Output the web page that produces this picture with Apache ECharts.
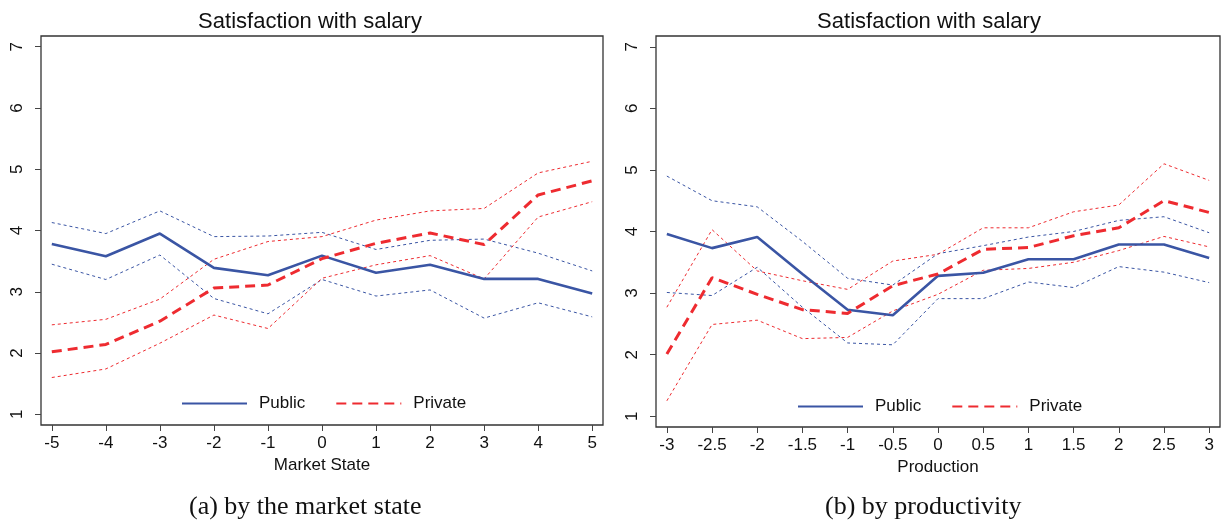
<!DOCTYPE html>
<html>
<head>
<meta charset="utf-8">
<title>Satisfaction with salary</title>
<script src="https://cdn.jsdelivr.net/npm/echarts@6/dist/echarts.min.js"></script>
<style>
    html, body { margin: 0; padding: 0; background: #fff; }
    #main_chart { width: 1227px; height: 520px; }
</style>
</head>
<body>
<div id="main_chart"></div>
<script>
//(a) 按市场状态
var marketState = [-5, -4, -3, -2, -1, 0, 1, 2, 3, 4, 5];
var marketPublic = [3.78, 3.58, 3.95, 3.39, 3.27, 3.59, 3.31, 3.44, 3.21, 3.21, 2.97];
var marketPublicHi = [4.13, 3.95, 4.32, 3.90, 3.91, 3.97, 3.69, 3.84, 3.86, 3.63, 3.34];
var marketPublicLo = [3.45, 3.20, 3.60, 2.89, 2.64, 3.20, 2.93, 3.03, 2.57, 2.82, 2.59];
var marketPrivate = [2.02, 2.14, 2.52, 3.06, 3.11, 3.54, 3.79, 3.96, 3.77, 4.58, 4.81];
var marketPrivateHi = [2.46, 2.55, 2.88, 3.53, 3.82, 3.90, 4.17, 4.32, 4.36, 4.94, 5.13];
var marketPrivateLo = [1.60, 1.74, 2.16, 2.62, 2.40, 3.22, 3.44, 3.59, 3.21, 4.22, 4.47];

//(b) 按生产率
var production = [-3, -2.5, -2, -1.5, -1, -0.5, 0, 0.5, 1, 1.5, 2, 2.5, 3];
var prodPublic = [3.96, 3.73, 3.91, 3.31, 2.73, 2.64, 3.28, 3.33, 3.55, 3.55, 3.79, 3.79, 3.57];
var prodPublicHi = [4.90, 4.50, 4.40, 3.84, 3.24, 3.13, 3.64, 3.77, 3.91, 4.00, 4.18, 4.24, 3.98];
var prodPublicLo = [3.01, 2.96, 3.42, 2.77, 2.19, 2.16, 2.91, 2.91, 3.18, 3.09, 3.43, 3.34, 3.17];
var prodPrivate = [2.01, 3.25, 2.98, 2.73, 2.67, 3.12, 3.31, 3.71, 3.74, 3.93, 4.06, 4.50, 4.31];
var prodPrivateHi = [2.77, 4.03, 3.36, 3.20, 3.06, 3.52, 3.63, 4.06, 4.06, 4.32, 4.43, 5.10, 4.83];
var prodPrivateLo = [1.25, 2.49, 2.56, 2.26, 2.28, 2.71, 2.98, 3.37, 3.40, 3.50, 3.69, 3.92, 3.75];

//刻度
var yTicks = [1, 2, 3, 4, 5, 6, 7];
var marketTicks = [-5, -4, -3, -2, -1, 0, 1, 2, 3, 4, 5];
var prodTicks = [-3, -2.5, -2, -1.5, -1, -0.5, 0, 0.5, 1, 1.5, 2, 2.5, 3];

var blue = '#3a55a4';
var red = '#ee2b30';
var sansFont = 'Liberation Sans, Arial, Helvetica, sans-serif';
var serifFont = 'Liberation Serif, Times New Roman, serif';

function pairs(xs, ys){
    var out = [];
    for(var i = 0; i < xs.length; i++){
        out.push([xs[i], ys[i]]);
    }
    return out;
}

function xAxisFor(idx, min, max, ticks, name){
    return {
        type: 'value',
        gridIndex: idx,
        min: min,
        max: max,
        name: name,
        nameLocation: 'middle',
        nameGap: 29,
        nameTextStyle: { color: '#111', fontSize: 17, fontFamily: sansFont },
        axisLine: { show: false, onZero: false },
        axisTick: { show: true, length: 6, lineStyle: { color: '#444', width: 1 }, customValues: ticks },
        axisLabel: { color: '#111', fontSize: 17, fontFamily: sansFont, margin: 10, customValues: ticks },
        splitLine: { show: false }
    };
}

function yAxisFor(idx){
    return {
        type: 'value',
        gridIndex: idx,
        min: 0.825,
        max: 7.175,
        axisLine: { show: false, onZero: false },
        axisTick: { show: true, length: 6, lineStyle: { color: '#444', width: 1 }, customValues: yTicks },
        axisLabel: { color: '#111', fontSize: 17, fontFamily: sansFont, rotate: 90, margin: 15, customValues: yTicks },
        splitLine: { show: false }
    };
}

function lineSeries(name, idx, xs, ys, color, width, type, z){
    return {
        name: name,
        type: 'line',
        xAxisIndex: idx,
        yAxisIndex: idx,
        data: pairs(xs, ys),
        symbol: 'none',
        silent: true,
        z: z,
        lineStyle: { color: color, width: width, type: type },
        itemStyle: { color: color }
    };
}

//图例: 只画线, 隐藏圆点
function legendFor(left, top){
    return {
        left: left,
        top: top,
        padding: 0,
        data: ['Public', 'Private'],
        itemWidth: 65,
        itemHeight: 14,
        itemGap: 30,
        selectedMode: false,
        itemStyle: { opacity: 0 },
        textStyle: { color: '#111', fontSize: 17, fontFamily: sansFont, padding: [0, 0, 0, 7] }
    };
}

var chart = echarts.init(document.getElementById('main_chart'));
var ciDash = [3, 3];
var mainDash = [10, 6];

var option = {
    animation: false,
    backgroundColor: '#fff',
    title: [
        { text: 'Satisfaction with salary', left: 305, top: 6, textAlign: 'center',
          textStyle: { color: '#111', fontSize: 22, fontWeight: 'normal', fontFamily: sansFont } },
        { text: 'Satisfaction with salary', left: 924, top: 6, textAlign: 'center',
          textStyle: { color: '#111', fontSize: 22, fontWeight: 'normal', fontFamily: sansFont } }
    ],
    legend: [legendFor(181, 395), legendFor(797, 398)],
    grid: [
        { left: 41, top: 36, width: 562, height: 389, show: true, borderColor: '#333', borderWidth: 1.3, backgroundColor: '#fff' },
        { left: 656, top: 36, width: 564, height: 391, show: true, borderColor: '#333', borderWidth: 1.3, backgroundColor: '#fff' }
    ],
    xAxis: [
        xAxisFor(0, -5.2, 5.2, marketTicks, 'Market State'),
        xAxisFor(1, -3.12, 3.12, prodTicks, 'Production')
    ],
    yAxis: [yAxisFor(0), yAxisFor(1)],
    series: [
        lineSeries('Public (a) hi', 0, marketState, marketPublicHi, blue, 1, ciDash, 2),
        lineSeries('Public (a) lo', 0, marketState, marketPublicLo, blue, 1, ciDash, 2),
        lineSeries('Private (a) hi', 0, marketState, marketPrivateHi, red, 1, ciDash, 2),
        lineSeries('Private (a) lo', 0, marketState, marketPrivateLo, red, 1, ciDash, 2),
        lineSeries('Public', 0, marketState, marketPublic, blue, 2.6, 'solid', 4),
        lineSeries('Private', 0, marketState, marketPrivate, red, 3, mainDash, 4),

        lineSeries('Public (b) hi', 1, production, prodPublicHi, blue, 1, ciDash, 2),
        lineSeries('Public (b) lo', 1, production, prodPublicLo, blue, 1, ciDash, 2),
        lineSeries('Private (b) hi', 1, production, prodPrivateHi, red, 1, ciDash, 2),
        lineSeries('Private (b) lo', 1, production, prodPrivateLo, red, 1, ciDash, 2),
        lineSeries('Public', 1, production, prodPublic, blue, 2.6, 'solid', 4),
        lineSeries('Private', 1, production, prodPrivate, red, 3, mainDash, 4)
    ],
    graphic: [
        { type: 'text', left: 189, top: 494, style: { text: '(a) by the market state', fill: '#111', font: '26px ' + serifFont } },
        { type: 'text', left: 825, top: 494, style: { text: '(b) by productivity', fill: '#111', font: '26px ' + serifFont } }
    ]
};
chart.setOption(option, true);
</script>
</body>
</html>
